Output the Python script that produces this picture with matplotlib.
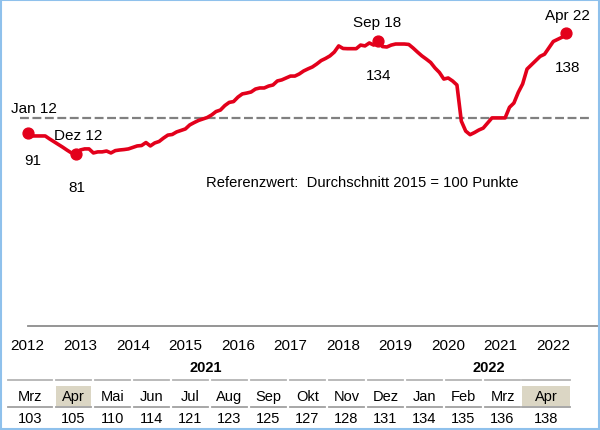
import numpy as np
import matplotlib
matplotlib.use('Agg')
import matplotlib.pyplot as plt
from matplotlib.patches import Rectangle

plt.rcParams['font.family'] = ['Liberation Sans', 'DejaVu Sans']

# monthly index values, Jan 2012 .. Apr 2022 (average 2015 = 100)
index_values = [
    91, 89.5, 89.5, 89.5, 89.5, 88.1, 86.8, 85.5, 84.2, 82.8, 81.5, 81,        # 2012
    82.9, 83.4, 83.4, 81.5, 82, 82, 82.4, 81.5, 82.6, 82.9, 83.1, 83.4,        # 2013
    84.1, 84.8, 85, 86.4, 84.8, 86.2, 86.9, 88.5, 89.9, 90.2, 91.4, 92.1,      # 2014
    92.8, 94.7, 95.8, 96.8, 97.5, 98.2, 99.4, 101, 101.7, 103.8, 105.3, 105.7, # 2015
    107.8, 109.3, 109.7, 110.2, 111.6, 112.1, 112.1, 113, 113.5, 115.4, 115.9, 116.8,  # 2016
    117.7, 117.7, 118.7, 120.1, 121.1, 122, 123.4, 125, 126, 127.2, 129, 131.9,        # 2017
    130.7, 130.6, 130.6, 130.6, 132.3, 131.9, 133.3, 132.3, 134, 131.6, 131.4, 132.3,  # 2018
    132.8, 132.8, 132.8, 132.6, 130.9, 129, 127.2, 125.7, 124.1, 121.5, 119.4, 116.3,  # 2019
    116.8, 115.4, 113.5, 96.5, 91.8, 90.1, 91.1, 92.3, 93.2, 95.6, 98, 98,             # 2020
    98, 98, 103, 105, 110, 114, 121, 123, 125, 127, 128, 131,                          # 2021
    134, 135, 136, 138,                                                                # 2022
]
years = list(range(2012, 2023))
ref_level = 98

marked_idx = [0, 11, 80, 123]
marked_names = ['Jan 12', 'Dez 12', 'Sep 18', 'Apr 22']

table_months = ['Mrz', 'Apr', 'Mai', 'Jun', 'Jul', 'Aug', 'Sep', 'Okt', 'Nov', 'Dez',
                'Jan', 'Feb', 'Mrz', 'Apr']
table_values = [103, 105, 110, 114, 121, 123, 125, 127, 128, 131, 134, 135, 136, 138]
table_years = ['2021', '2022']
year_spans = [(0, 9), (10, 13)]
highlighted = [1, 13]

red = '#e3001b'
grey = '#808080'

fig = plt.figure(figsize=(6, 4.31), dpi=100)

# main chart
ax = fig.add_axes([0, 104 / 431, 1, 327 / 431])
ax.patch.set_alpha(0)
x = np.arange(len(index_values))
ax.plot(x, index_values, color=red, lw=2.6, solid_joinstyle='round', zorder=3)
ax.plot(x[marked_idx], np.array(index_values)[marked_idx], 'o', color=red, ms=7.8, zorder=4)
ax.plot([-1.75, 128.8], [ref_level, ref_level], color=grey, lw=1.6,
        linestyle=(0, (4, 1.6)), zorder=2)

offsets = [((6, 25), (5, -27)), ((2, 19), (1, -33)), ((-1, 19), (1, -34)), ((1, 18), (1, -34))]
for i, name, (o1, o2) in zip(marked_idx, marked_names, offsets):
    v = index_values[i]
    ax.annotate(name, (x[i], v), xytext=o1, textcoords='offset pixels',
                ha='center', va='center', fontsize=11)
    ax.annotate(f'{v:.0f}', (x[i], v), xytext=o2, textcoords='offset pixels',
                ha='center', va='center', fontsize=11)

ax.text(0.603, 0.44, 'Referenzwert:  Durchschnitt 2015 = 100 Punkte', transform=ax.transAxes,
        ha='center', va='center', fontsize=10.6)

ax.set_xlim(-27.7 / 4.38, (600 - 27.7) / 4.38)
ax.set_ylim(0, 154)
ax.set_yticks([])
ax.set_xticks([(y - 2012) * 12 for y in years])
ax.set_xticklabels([str(y) for y in years], fontsize=11)
ax.tick_params(axis='x', length=0, pad=9)
for s in ['left', 'right', 'top']:
    ax.spines[s].set_visible(False)
ax.spines['bottom'].set_color('#8c8c8c')
ax.spines['bottom'].set_linewidth(1.3)
ax.spines['bottom'].set_bounds(0, (600 - 27.7) / 4.38)

# table below chart (pixel layout)
tax = fig.add_axes([0, 0, 1, 1])
tax.set_xlim(0, 600)
tax.set_ylim(431, 0)
tax.axis('off')
tax.patch.set_alpha(0)

lefts = [8] + [56 + 39 * i for i in range(12)] + [522]
widths = [44] + [35] * 12 + [48]
for k, (m, v) in enumerate(zip(table_months, table_values)):
    l, w = lefts[k], widths[k]
    if k in highlighted:
        tax.add_patch(Rectangle((l, 387), w, 20, color='#dbd6c4', lw=0))
    tax.plot([l, l + w], [381, 381], color='#b4b4b4', lw=1.3)
    tax.plot([l, l + w], [408.5, 408.5], color='#a0a0a0', lw=1.3)
    tax.text(l + w / 2, 397.5, m, ha='center', va='center', fontsize=10.5)
    tax.text(l + w / 2, 419.5, str(v), ha='center', va='center', fontsize=10.5)

for yl, (a, b) in zip(table_years, year_spans):
    c = (lefts[a] + lefts[b] + widths[b]) / 2
    tax.text(c, 368, yl, ha='center', va='center', fontsize=10.5, fontweight='bold')

# light blue frame
tax.add_patch(Rectangle((0.8, 0.8), 598.4, 429.4, fill=False, ec='#8fc1ec', lw=1.5))

fig.savefig('out.png', dpi=100)
